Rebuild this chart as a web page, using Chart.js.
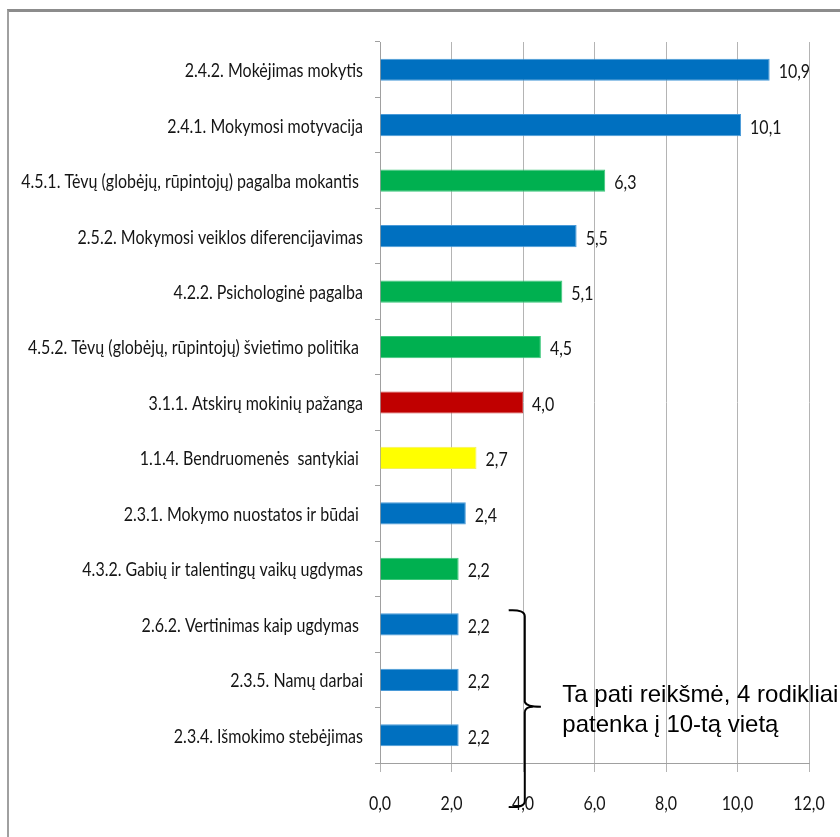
<!DOCTYPE html>
<html>
<head>
<meta charset="utf-8">
<script src="https://cdn.jsdelivr.net/npm/chart.js@4.4.1/dist/chart.umd.min.js"></script>
<style>
    html, body { margin: 0; padding: 0; background: #fff; overflow: hidden; }
    #wrap { position: relative; width: 840px; height: 837px; }
    #frame { position: absolute; left: 7px; top: 9px; right: -10px; bottom: -10px;
             border-left: 2px solid #a0a0a0; border-top: 3px solid #8c8c8c; pointer-events: none; }
</style>
</head>
<body>
<div id="wrap">
    <canvas id="chart" width="840" height="837"></canvas>
    <div id="frame"></div>
</div>
<script>
const labels = [
    "2.4.2. Mokėjimas mokytis",
    "2.4.1. Mokymosi motyvacija",
    "4.5.1. Tėvų (globėjų, rūpintojų) pagalba mokantis ",
    "2.5.2. Mokymosi veiklos diferencijavimas",
    "4.2.2. Psichologinė pagalba",
    "4.5.2. Tėvų (globėjų, rūpintojų) švietimo politika ",
    "3.1.1. Atskirų mokinių pažanga",
    "1.1.4. Bendruomenės  santykiai ",
    "2.3.1. Mokymo nuostatos ir būdai ",
    "4.3.2. Gabių ir talentingų vaikų ugdymas",
    "2.6.2. Vertinimas kaip ugdymas ",
    "2.3.5. Namų darbai",
    "2.3.4. Išmokimo stebėjimas"
];
const values = [10.9, 10.1, 6.3, 5.5, 5.1, 4.5, 4.0, 2.7, 2.4, 2.2, 2.2, 2.2, 2.2];
const groups = ['blue', 'blue', 'green', 'blue', 'green', 'green', 'red', 'yellow', 'blue', 'green', 'blue', 'blue', 'blue'];
const xTicks = [0, 2, 4, 6, 8, 10, 12];
const noteLines = ["Ta pati reikšmė, 4 rodikliai", "patenka į 10-tą vietą"];

const fill = { blue: '#0070C0', green: '#00B050', red: '#C00000', yellow: '#FFFF00' };
const edge = { blue: '#4a9ad8', green: '#3cc77a', red: '#d04040', yellow: '#f4f060' };

const labelFont = "20px Lato, 'DejaVu Sans Condensed', sans-serif";
const squeeze = 0.8;   // Calibri-like narrow text
const fmt = v => v.toFixed(1).replace('.', ',');

function narrowText(ctx, text, x, y, align) {
    ctx.save();
    ctx.translate(x, y);
    ctx.scale(squeeze, 1);
    ctx.textAlign = align;
    ctx.fillText(text, 0, 0);
    ctx.restore();
}

// axis labels and bar values drawn narrow, like the original
const textLayer = {
    id: 'textLayer',
    afterDatasetsDraw(chart) {
        const ctx = chart.ctx;
        const xs = chart.scales.x, ys = chart.scales.y;
        const meta = chart.getDatasetMeta(0);
        ctx.save();
        ctx.font = labelFont;
        ctx.fillStyle = '#151515';
        ctx.textBaseline = 'middle';
        labels.forEach((l, i) => narrowText(ctx, l, xs.left - 17, ys.getPixelForValue(i) + 1, 'right'));
        meta.data.forEach((bar, i) => narrowText(ctx, fmt(values[i]), bar.x + 9, bar.y + 2, 'left'));
        xTicks.forEach(v => narrowText(ctx, fmt(v), xs.getPixelForValue(v), ys.bottom + 41, 'center'));
        ctx.restore();
    }
};

// brace + note next to the four equal bars at the bottom
const braceNote = {
    id: 'braceNote',
    afterDraw(chart) {
        const ctx = chart.ctx;
        const xs = chart.scales.x, ys = chart.scales.y;
        const xL = xs.getPixelForValue(3.6), xM = xs.getPixelForValue(4.05), xT = xs.getPixelForValue(4.5);
        const top = ys.getPixelForValue(10) - 14;
        const mid = ys.getPixelForValue(11) + 27;
        const bot = chart.chartArea.bottom + 44;
        ctx.save();
        ctx.strokeStyle = '#000';
        ctx.lineWidth = 2;
        ctx.beginPath();
        ctx.moveTo(xL, top);
        ctx.quadraticCurveTo(xM, top - 1, xM, top + 6);
        ctx.lineTo(xM, mid - 5);
        ctx.quadraticCurveTo(xM + 1, mid, xT, mid);
        ctx.moveTo(xM, mid + 5);
        ctx.quadraticCurveTo(xM + 1, mid, xT - 8, mid);
        ctx.moveTo(xM, mid + 5);
        ctx.lineTo(xM, bot - 6);
        ctx.quadraticCurveTo(xM, bot + 1, xL, bot);
        ctx.stroke();
        ctx.font = "24px 'Liberation Sans', Arial, sans-serif";
        ctx.fillStyle = '#000';
        ctx.textAlign = 'left';
        ctx.textBaseline = 'alphabetic';
        const tx = xs.getPixelForValue(5.1);
        ctx.fillText(noteLines[0], tx, mid - 5);
        ctx.fillText(noteLines[1], tx, mid + 25);
        ctx.restore();
    }
};

new Chart(document.getElementById('chart'), {
    type: 'bar',
    data: {
        labels: labels,
        datasets: [{
            data: values,
            backgroundColor: groups.map(g => fill[g]),
            borderColor: groups.map(g => edge[g]),
            borderWidth: 1,
            barPercentage: 0.4,
            categoryPercentage: 1
        }]
    },
    options: {
        indexAxis: 'y',
        responsive: false,
        animation: false,
        layout: { padding: { top: 42, right: 31, left: 10, bottom: 0 } },
        plugins: { legend: { display: false }, tooltip: { enabled: false } },
        scales: {
            x: {
                min: 0,
                max: 12,
                afterFit(scale) { scale.height = 74; },
                border: { color: '#a0a0a0', width: 1 },
                grid: { color: '#b4b4b4', tickLength: 9 },
                ticks: { stepSize: 2, color: 'rgba(0,0,0,0)', font: { size: 17 } }
            },
            y: {
                afterFit(scale) { scale.width = 370; },
                border: { color: '#a0a0a0', width: 1 },
                grid: { drawOnChartArea: false, color: '#a0a0a0', tickLength: 5, offset: true },
                ticks: { color: 'rgba(0,0,0,0)', font: { size: 10 } }
            }
        }
    },
    plugins: [textLayer, braceNote]
});
</script>
</body>
</html>
